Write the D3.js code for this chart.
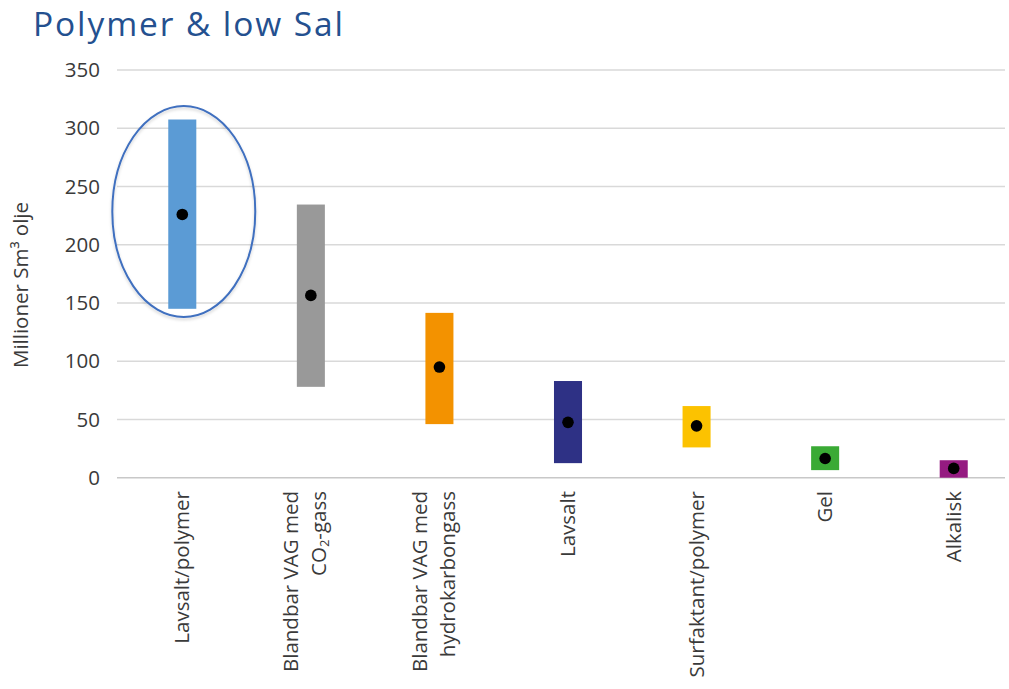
<!DOCTYPE html>
<html>
<head>
<meta charset="utf-8">
<script src="https://cdn.jsdelivr.net/npm/d3@7"></script>
<style>
  html, body { margin: 0; padding: 0; background: #ffffff; }
  svg { display: block; }
</style>
</head>
<body>
<svg id="chart" width="1009" height="689"></svg>
<script>
// Recovery potential per method (million Sm³ oil): low / expected / high
const categories = [
  ["Lavsalt/polymer"],
  ["Blandbar VAG med", "CO2-gass"],
  ["Blandbar VAG med", "hydrokarbongass"],
  ["Lavsalt"],
  ["Surfaktant/polymer"],
  ["Gel"],
  ["Alkalisk"]
];
const lowValues  = [145, 78, 46, 12.5, 26, 6.5, 0];
const highValues = [307.5, 234.5, 141.5, 83, 61.5, 27, 15];
const midValues  = [226, 156.5, 95, 47.5, 44.5, 16.5, 8];
const barColors  = ["#5b9bd5", "#999999", "#f39200", "#2e3185", "#fcc200", "#3aaa35", "#951b81"];
const yTicks     = [0, 50, 100, 150, 200, 250, 300, 350];
// Highlight ring around the first method, in data units
const ringLow = 138, ringHigh = 319;

const svg = d3.select("#chart");
const FONT = "'Open Sans', sans-serif";
const FS = 20.5;

const x = d3.scaleBand()
  .domain(d3.range(categories.length))
  .range([118, 1018])
  .paddingInner(0.782)
  .paddingOuter(0.391);

const y = d3.scaleLinear().domain([0, 350]).range([477.7, 70]);

// Title
svg.append("text")
  .attr("x", 33).attr("y", 36)
  .attr("font-family", FONT)
  .attr("font-size", 33.5)
  .attr("textLength", 310)
  .attr("lengthAdjust", "spacing")
  .attr("fill", "#24508f")
  .text("Polymer & low Sal");

// Gridlines + y tick labels
const yAxis = d3.axisLeft(y).tickValues(yTicks).tickSize(0).tickPadding(0);
const gy = svg.append("g").attr("transform", "translate(100,0)").call(yAxis);
gy.select(".domain").remove();
gy.selectAll("text")
  .attr("font-family", FONT)
  .attr("font-size", FS)
  .attr("fill", "#3a3a3a");

svg.append("g").selectAll("line")
  .data(yTicks).join("line")
  .attr("x1", 117).attr("x2", 1005)
  .attr("y1", d => y(d)).attr("y2", d => y(d))
  .attr("stroke", d => d === 0 ? "#c8c8c8" : "#d9d9d9")
  .attr("stroke-width", 1.5);

// Y axis title
svg.append("text")
  .attr("transform", "translate(28,285) rotate(-90)")
  .attr("text-anchor", "middle")
  .attr("font-family", FONT)
  .attr("font-size", FS)
  .attr("fill", "#3a3a3a")
  .text("Millioner Sm³ olje");

// Range bars
svg.append("g").selectAll("rect")
  .data(categories.map((c, i) => i)).join("rect")
  .attr("x", i => x(i))
  .attr("width", x.bandwidth())
  .attr("y", i => y(highValues[i]))
  .attr("height", i => y(lowValues[i]) - y(highValues[i]))
  .attr("fill", i => barColors[i]);

// Expected-value dots
svg.append("g").selectAll("circle")
  .data(categories.map((c, i) => i)).join("circle")
  .attr("cx", i => x(i) + x.bandwidth() / 2)
  .attr("cy", i => y(midValues[i]))
  .attr("r", 5.8)
  .attr("fill", "#000");

// Highlight ring
const defs = svg.append("defs");
const f = defs.append("filter").attr("id", "soft").attr("x", "-20%").attr("y", "-20%").attr("width", "140%").attr("height", "140%");
f.append("feDropShadow").attr("dx", 0).attr("dy", 2).attr("stdDeviation", 1.5).attr("flood-color", "#000").attr("flood-opacity", 0.18);
svg.append("ellipse")
  .attr("cx", x(0) + x.bandwidth() / 2 + 1.5)
  .attr("cy", (y(ringLow) + y(ringHigh)) / 2)
  .attr("rx", x.step() * 0.556)
  .attr("ry", (y(ringLow) - y(ringHigh)) / 2)
  .attr("fill", "none")
  .attr("stroke", "#3f6fbf")
  .attr("stroke-width", 2)
  .attr("filter", "url(#soft)");

// Category labels (rotated, wrapped onto lines)
const lineGap = 28;
const lab = svg.append("g").selectAll("g")
  .data(categories.map((c, i) => i)).join("g")
  .attr("transform", i => `translate(${x(i) + x.bandwidth() / 2},491) rotate(-90)`);

lab.each(function(i) {
  const lines = categories[i];
  const g = d3.select(this);
  const n = lines.length;
  lines.forEach((line, k) => {
    const t = g.append("text")
      .attr("x", 0)
      .attr("y", (k - (n - 1) / 2) * lineGap - (n > 1 ? 6 : 0))
      .attr("dy", "0.35em")
      .attr("text-anchor", "end")
      .attr("font-family", FONT)
      .attr("font-size", FS)
      .attr("fill", "#3a3a3a");
    const m = line.match(/^CO2(.*)$/);
    if (m) {
      t.append("tspan").text("CO");
      t.append("tspan").attr("font-size", 13).attr("baseline-shift", "-25%").text("2");
      t.append("tspan").text(m[1]);
    } else {
      t.text(line);
    }
  });
});
</script>
</body>
</html>
